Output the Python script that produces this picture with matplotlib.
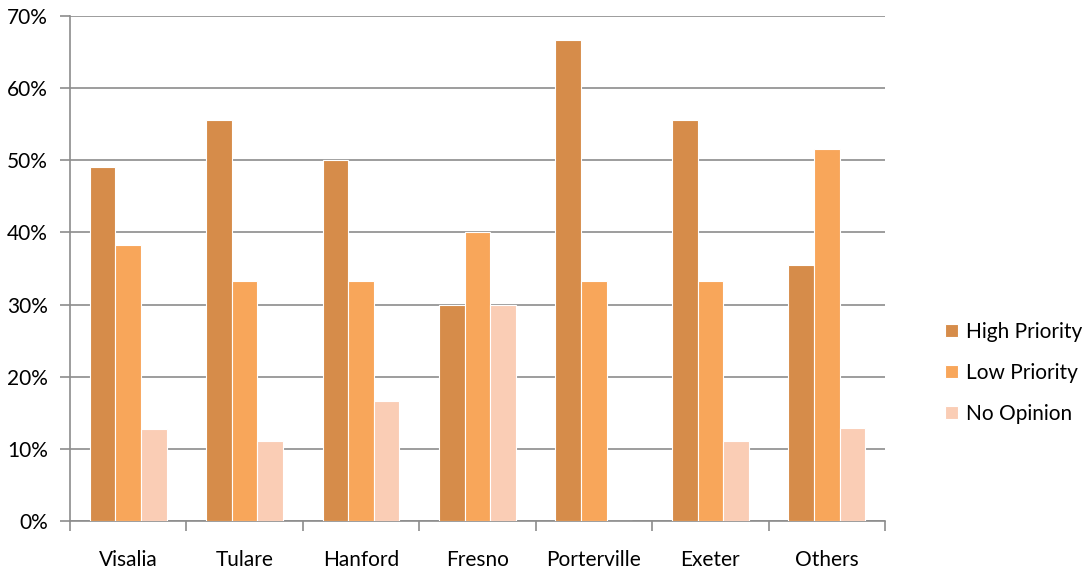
import matplotlib
matplotlib.use("Agg")
import matplotlib.pyplot as plt
import numpy as np
from matplotlib.ticker import PercentFormatter, FixedLocator, NullFormatter

categories = ["Visalia", "Tulare", "Hanford", "Fresno", "Porterville", "Exeter", "Others"]
high_priority = [49.1, 55.6, 50.0, 30.0, 66.7, 55.6, 35.5]
low_priority = [38.2, 33.3, 33.3, 40.0, 33.3, 33.3, 51.6]
no_opinion = [12.7, 11.1, 16.7, 30.0, 0.0, 11.1, 12.9]
series_names = ["High Priority", "Low Priority", "No Opinion"]
colors = ["#D68C4A", "#F8A65A", "#FACDB5"]

plt.rcParams['font.family'] = ['Lato', 'DejaVu Sans']

fig = plt.figure(figsize=(10.88, 5.74), dpi=100)
ax = fig.add_axes([0.0643, 0.0923, 0.7491, 0.8798])

x = np.arange(len(categories))
w = 0.22
for i, (vals, name, c) in enumerate(zip([high_priority, low_priority, no_opinion], series_names, colors)):
    ax.bar(x + (i - 1) * w, vals, width=w, color=c, label=name, edgecolor="white", linewidth=0.8, zorder=3)

ax.set_xlim(-0.5, len(categories) - 0.5)
ax.set_ylim(0, 70)
ax.set_yticks(np.arange(0, 71, 10))
ax.yaxis.set_major_formatter(PercentFormatter(decimals=0))
ax.grid(axis="y", color="#8C8C8C", linewidth=1.2, zorder=0)
ax.set_xticks(x)
ax.set_xticklabels(categories, fontsize=15)
ax.tick_params(axis="x", length=0, pad=21)
ax.xaxis.set_minor_locator(FixedLocator(np.arange(-0.5, len(categories), 1)))
ax.xaxis.set_minor_formatter(NullFormatter())
ax.tick_params(axis="x", which="minor", length=7, color="#8C8C8C", width=1.2)
ax.tick_params(axis="y", length=7, color="#8C8C8C", width=1.2, labelsize=15, pad=9)
for s in ["top", "right"]:
    ax.spines[s].set_visible(False)
for s in ["left", "bottom"]:
    ax.spines[s].set_color("#8C8C8C")
    ax.spines[s].set_linewidth(1.2)

leg = ax.legend(loc="center left", bbox_to_anchor=(1.051, 0.293), frameon=False, fontsize=15,
                handlelength=0.6, handleheight=0.6, handletextpad=0.4, labelspacing=1.0)

fig.savefig("out.png", dpi=100)
